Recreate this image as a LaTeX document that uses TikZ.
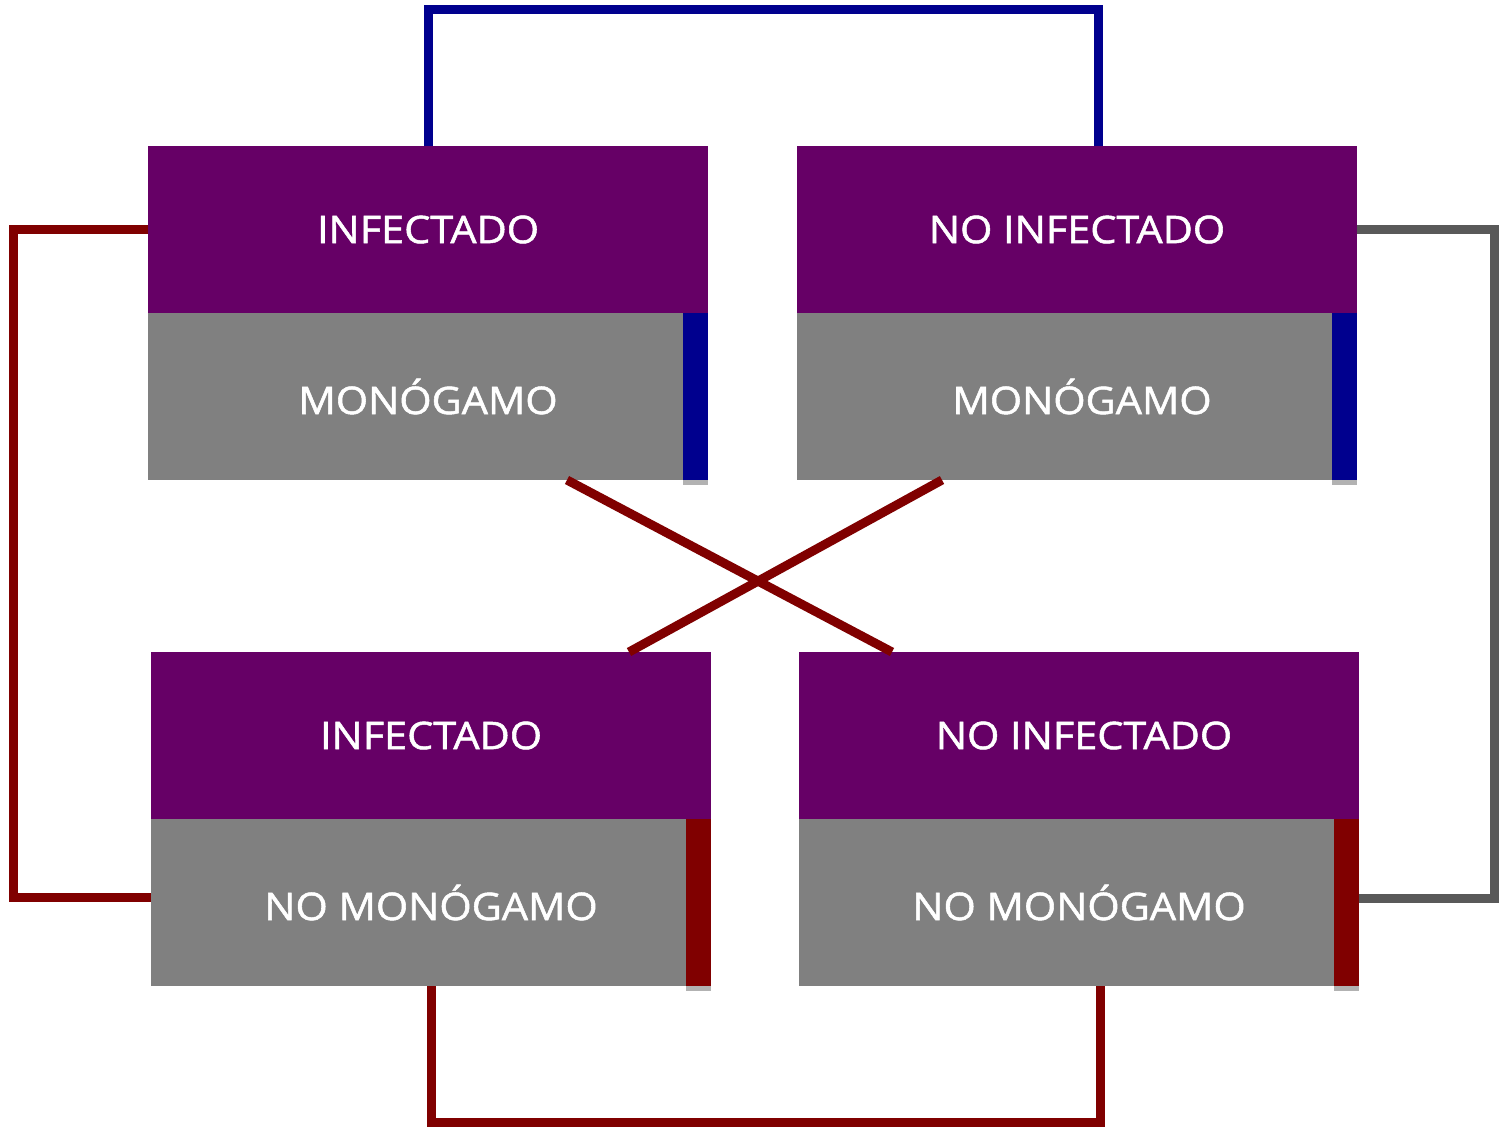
\documentclass[tikz,border=0pt]{standalone}
\usepackage{fontspec}
\usepackage{graphicx}
\usetikzlibrary{positioning,calc}
\newfontfamily\cellfont{Open Sans}[FakeBold=1.3]
\definecolor{boxPurple}{RGB}{102,0,102}
\definecolor{boxGray}{RGB}{128,128,128}
\definecolor{barBlue}{RGB}{0,0,142}
\definecolor{barRed}{RGB}{128,0,0}
\definecolor{lineGray}{RGB}{89,89,89}
\definecolor{shadowGray}{RGB}{178,178,178}
\newcommand{\widetxt}[1]{\raisebox{-1.5pt}{\scalebox{1.09}[1]{#1}}}
\tikzset{
  cell/.style={rectangle,inner sep=0pt,outer sep=0pt,minimum width=280pt,minimum height=83.5pt,
    text=white,font=\cellfont\fontsize{19}{22}\selectfont},
  headcell/.style={cell,fill=boxPurple},
  bodycell/.style={cell,fill=boxGray},
  link/.style={line width=4.5pt},
  bluelink/.style={link,draw=barBlue},
  redlink/.style={link,draw=barRed},
  graylink/.style={link,draw=lineGray}
}
\newcommand{\sidebar}[2]{%
  \fill[#2] ($(#1.north east)+(-25,0)$) rectangle (#1.south east);
  \fill[shadowGray] ($(#1.south east)+(-25,0)$) rectangle ($(#1.south east)+(0,5)$);}
\begin{document}
\begin{tikzpicture}[x=0.5pt,y=-0.5pt]
\path[use as bounding box,fill=white] (0,0) rectangle (1499,1132);

% upper row
\node[headcell,anchor=north west] (infTL) at (148,146) {\widetxt{INFECTADO}};
\node[bodycell,below=0pt of infTL] (monTL) {\widetxt{MONÓGAMO}};
\node[headcell,anchor=north west] (infTR) at (797,146) {\widetxt{NO INFECTADO}};
\node[bodycell,below=0pt of infTR] (monTR) {\hspace*{5pt}\widetxt{MONÓGAMO}};

% lower row
\node[headcell,anchor=north west] (infBL) at (151,652) {\widetxt{INFECTADO}};
\node[bodycell,below=0pt of infBL] (monBL) {\widetxt{NO MONÓGAMO}};
\node[headcell,anchor=north west] (infBR) at (799,652) {\hspace*{5pt}\widetxt{NO INFECTADO}};
\node[bodycell,below=0pt of infBR] (monBR) {\widetxt{NO MONÓGAMO}};

% coloured bars
\sidebar{monTL}{barBlue}
\sidebar{monTR}{barBlue}
\sidebar{monBL}{barRed}
\sidebar{monBR}{barRed}

% connectors
\coordinate (blueEnd) at ($(infTR.north)+(21,0)$);
\draw[bluelink] (infTL.north) -- ++(0,-137) -| (blueEnd);
\draw[redlink] (infTL.west) -- ++(-135,0) |- ($(monBL.west)+(0,-5)$);
\draw[graylink] (infTR.east) -- ++(137,0) |- ($(monBR.east)+(0,-4)$);
\coordinate (redEnd) at ($(monBR.south)+(21,0)$);
\draw[redlink] (monBL.south) -- ++(0,136) -| (redEnd);
\draw[redlink] ($(monTL.south)+(139,0)$) -- ($(infBR.north)+(-187,0)$);
\draw[redlink] ($(monTR.south)+(-135,0)$) -- ($(infBL.north)+(198,0)$);
\end{tikzpicture}
\end{document}
